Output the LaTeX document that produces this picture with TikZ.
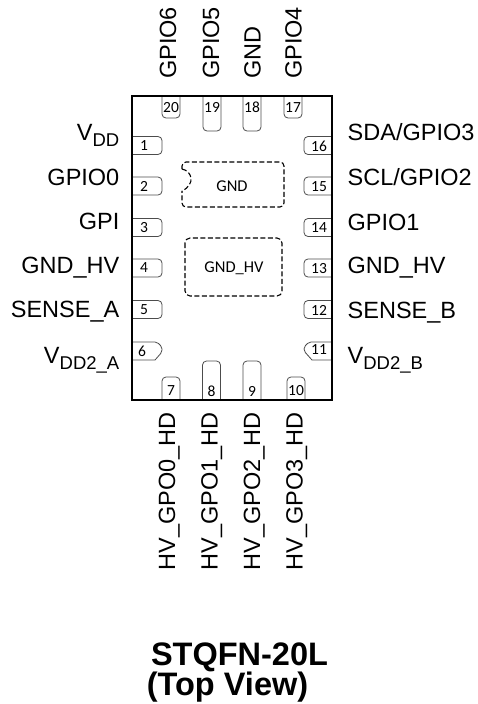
\documentclass[tikz,border=0pt]{standalone}
\usepackage{fontspec}
\setmainfont{Liberation Sans}
\newfontfamily\padfont{Carlito}
\newcommand{\pinsub}[1]{\raisebox{-6pt}{\fontsize{18.5}{20}\selectfont #1}}
\tikzset{
    padline/.style={draw=black!70, line width=0.8pt, rounded corners=4pt},
    gndline/.style={draw=black, line width=1.1pt, dash pattern=on 5pt off 2.5pt},
    pinlabel/.style={font=\fontsize{23.5}{26}\selectfont, inner sep=0pt},
    padnum/.style={font=\padfont\fontsize{15.5}{17}\selectfont, inner sep=0pt},
    gndlabel/.style={font=\padfont\fontsize{16.5}{18}\selectfont, inner sep=0pt},
    titlelabel/.style={font=\bfseries\fontsize{32.5}{34}\selectfont, inner sep=0pt, anchor=base}
}
\begin{document}
\begin{tikzpicture}[x=1pt, y=-1pt]
    \useasboundingbox (0, 0) rectangle (478, 704);

    % Left pads
    \foreach \n/\y in {1/136.5, 2/177, 3/218.5, 4/259, 5/300.5} {
        \draw[padline] (132, \y) -- (162, \y) -- (162, \y+18) -- (132, \y+18);
        \node[padnum] (pad\n) at (144, \y+9) {\n};
    }
    \draw[padline, rounded corners=2pt] (132, 342) -- (157, 342) -- (162, 347) -- (162, 352) [sharp corners] -- (155, 360) -- (132, 360);
    \node[padnum] (pad6) at (142, 351) {6};

    % Right pads
    \foreach \n/\y in {16/136.5, 15/177, 14/218.5, 13/259, 12/300.5} {
        \draw[padline] (332, \y) -- (304, \y) -- (304, \y+18) -- (332, \y+18);
        \node[padnum] (pad\n) at (319, \y+9.5) {\n};
    }
    \draw[padline, rounded corners=2pt] (332, 342) -- (309, 342) -- (304, 347) -- (304, 351) [sharp corners] -- (312, 360) -- (332, 360);
    \node[padnum] (pad11) at (319, 350) {11};

    % Top pads
    \foreach \n/\x/\y in {20/162/118, 19/203/131, 18/243/131, 17/284/118} {
        \draw[padline] (\x, 96) -- (\x, \y) -- (\x+18, \y) -- (\x+18, 96);
        \node[padnum] (pad\n) at (\x+9, 107.5) {\n};
    }

    % Bottom pads
    \foreach \n/\x/\y in {7/162/377, 8/202.5/361, 9/243/361, 10/287/377} {
        \draw[padline] (\x, 400) -- (\x, \y) -- (\x+18, \y) -- (\x+18, 400);
        \node[padnum] (pad\n) at (\x+9, 391) {\n};
    }

    % Package outline
    \draw[line width=1.3pt] (132, 96) rectangle (332, 400);

    % Exposed pads
    \draw[gndline, rounded corners=4pt] (182, 169) -- (182, 162) -- (284, 162) -- (284, 207) -- (182, 207) -- (182, 191);
    \draw[gndline] (182, 169) .. controls (192, 171) and (196, 184) .. (182, 191);
    \node[gndlabel] (gnd) at (232, 186) {GND};
    \draw[gndline, rounded corners=5pt] (185, 238) rectangle (282, 296);
    \node[gndlabel] (gndhv) at (234, 268) {GND\_HV};

    % Left labels
    \foreach \n/\y/\t in {1/140.7/V\pinsub{DD}, 2/185/GPIO0, 3/229.7/GPI, 4/273.3/GND\_HV, 5/317.3/SENSE\_A, 6/363/V\pinsub{DD2\_A}} {
        \node[pinlabel, anchor=base east] (left\n) at (119.5, \y) {\t};
    }

    % Right labels
    \foreach \n/\y/\t in {16/140/{SDA/GPIO3}, 15/185/{SCL/GPIO2}, 14/230/GPIO1, 13/273.3/GND\_HV, 12/318/SENSE\_B, 11/363/V\pinsub{DD2\_B}} {
        \node[pinlabel, anchor=base west] (right\n) at (347.5, \y) {\t};
    }

    % Top labels
    \foreach \n/\x/\t in {20/176/GPIO6, 19/219/GPIO5, 18/260.7/GND, 17/301.7/GPIO4} {
        \node[pinlabel, rotate=90, anchor=base west] (top\n) at (\x, 79) {\t};
    }

    % Bottom labels
    \foreach \n/\x/\t in {7/175/HV\_GPO0\_HD, 8/217.7/HV\_GPO1\_HD, 9/260/HV\_GPO2\_HD, 10/302.7/HV\_GPO3\_HD} {
        \node[pinlabel, rotate=90, anchor=base east] (bottom\n) at (\x, 412) {\t};
    }

    % Title
    \node[titlelabel] (package) at (239.5, 665) {STQFN-20L};
    \node[titlelabel] (view) at (227.5, 695) {(Top View)};
\end{tikzpicture}
\end{document}
